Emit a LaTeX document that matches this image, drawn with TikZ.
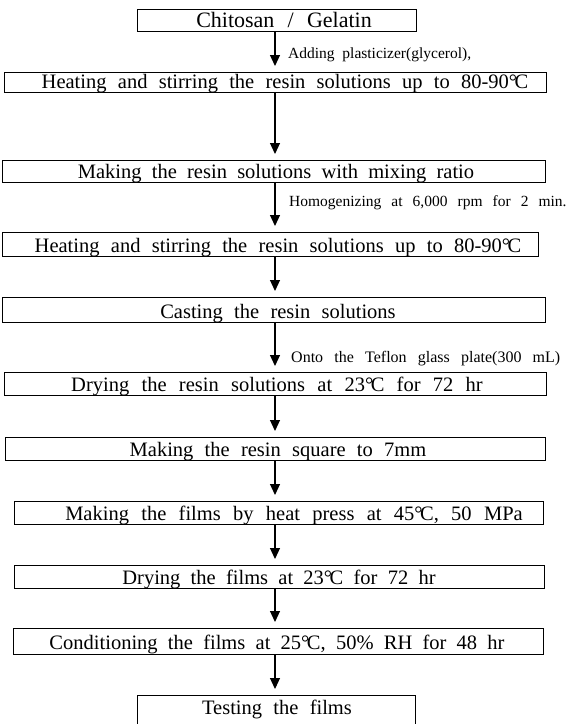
\documentclass[tikz,border=0pt]{standalone}
\usepackage{fontspec}
\setmainfont{Liberation Serif}
\usetikzlibrary{arrows.meta}
\newcommand\degC{°\kern-0.12em C}
\newcommand\boxfont{\fontsize{20.5}{24}\selectfont}
\newcommand\lblfont{\fontsize{15.5}{18}\selectfont}
\begin{document}
\begin{tikzpicture}[x=1pt,y=-1pt,
  box/.style={draw, line width=1pt, inner sep=0pt, anchor=north west},
  txt/.style={anchor=base, inner sep=0pt, font=\boxfont},
  lbl/.style={anchor=base west, inner sep=0pt, font=\lblfont},
  arr/.style={line width=1.1pt, -{Triangle[length=11pt,width=10pt]}, shorten >=6pt}]
\useasboundingbox (0,0) rectangle (571,724);
\fill[white] (0,0) rectangle (571,724);
\clip (0,0) rectangle (571,724);
\coordinate (ax) at (275,0);
% boxes
\node[box, minimum width=279pt, minimum height=22pt] (b1) at (137,9) {};
\node[box, minimum width=542pt, minimum height=20pt] (b2) at (4,72) {};
\node[box, minimum width=543pt, minimum height=22pt] (b3) at (2,160) {};
\node[box, minimum width=536pt, minimum height=24pt] (b4) at (2,232) {};
\node[box, minimum width=543pt, minimum height=25pt] (b5) at (2,297) {};
\node[box, minimum width=542pt, minimum height=23pt] (b6) at (4,372) {};
\node[box, minimum width=540pt, minimum height=23pt] (b7) at (5,437) {};
\node[box, minimum width=529pt, minimum height=23pt] (b8) at (14,501) {};
\node[box, minimum width=530pt, minimum height=23pt] (b9) at (14,565) {};
\node[box, minimum width=530pt, minimum height=26pt] (b10) at (13,628) {};
\node[box, minimum width=278pt, minimum height=40pt] (b11) at (137,695) {};
% texts
\node[txt, font=\fontsize{22}{26}\selectfont] (t1) at (284,27) {\spaceskip=0.6em Chitosan / Gelatin};
\node[txt] (t2) at (285,88) {\spaceskip=0.55em Heating and stirring the resin solutions up to 80-90\degC};
\node[txt] (t3) at (276,178) {\spaceskip=0.5em Making the resin solutions with mixing ratio};
\node[txt] (t4) at (278,252) {\spaceskip=0.55em Heating and stirring the resin solutions up to 80-90\degC};
\node[txt] (t5) at (278,318) {\spaceskip=0.55em Casting the resin solutions};
\node[txt] (t6) at (277,391) {\spaceskip=0.6em Drying the resin solutions at 23\degC\ for 72 hr};
\node[txt] (t7) at (278,456) {\spaceskip=0.55em Making the resin square to 7mm};
\node[txt] (t8) at (294,520) {\spaceskip=0.6em Making the films by heat press at 45\degC, 50 MPa};
\node[txt] (t9) at (279,584) {\spaceskip=0.5em Drying the films at 23\degC\ for 72 hr};
\node[txt] (t10) at (277,649) {\spaceskip=0.5em Conditioning the films at 25\degC, 50\% RH for 48 hr};
\node[txt] (t11) at (277,714) {\spaceskip=0.55em Testing the films};
% labels
\node[lbl] (l1) at (288,58) {\spaceskip=0.5em Adding plasticizer(glycerol),};
\node[lbl] (l2) at (289,206) {\spaceskip=0.65em Homogenizing at 6,000 rpm for 2 min.};
\node[lbl, font=\fontsize{16}{18}\selectfont] (l3) at (291,362) {\spaceskip=0.7em Onto the Teflon glass plate(300 mL)};
% arrows
\draw[arr] (b1.south -| ax) -- (b2.north -| ax);
\draw[arr] (b2.south -| ax) -- (b3.north -| ax);
\draw[arr] (b3.south -| ax) -- (b4.north -| ax);
\draw[arr] (b4.south -| ax) -- (b5.north -| ax);
\draw[arr] (b5.south -| ax) -- (b6.north -| ax);
\draw[arr] (b6.south -| ax) -- (b7.north -| ax);
\draw[arr] (b7.south -| ax) -- (b8.north -| ax);
\draw[arr] (b8.south -| ax) -- (b9.north -| ax);
\draw[arr] (b9.south -| ax) -- (b10.north -| ax);
\draw[arr] (b10.south -| ax) -- (b11.north -| ax);
\end{tikzpicture}
\end{document}
